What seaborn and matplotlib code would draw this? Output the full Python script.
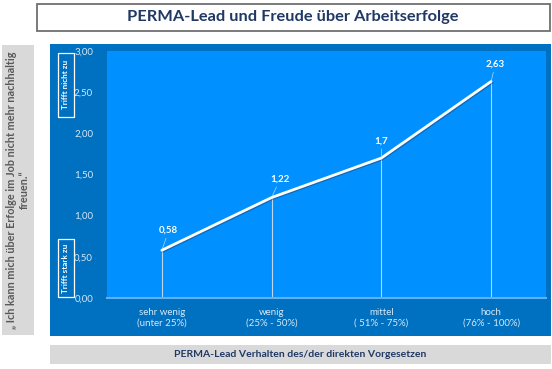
import pandas as pd
import matplotlib.pyplot as plt
import seaborn as sns
from matplotlib.patches import Rectangle
import matplotlib.patheffects as pe

# data
categories = ["sehr wenig\n(unter 25%)", "wenig\n(25% - 50%)", "mittel\n( 51% - 75%)", "hoch\n(76% - 100%)"]
values = [0.58, 1.22, 1.7, 2.63]
value_labels = ["0,58", "1,22", "1,7", "2,63"]
label_offsets = [(5, 11), (6, 10), (0, 9), (3, 9)]
yticks = [0, 0.5, 1.0, 1.5, 2.0, 2.5, 3.0]
ytick_labels = ["0,00", "0,50", "1,00", "1,50", "2,00", "2,50", "3,00"]

title = "PERMA-Lead und Freude über Arbeitserfolge"
xlabel = "PERMA-Lead Verhalten des/der direkten Vorgesetzen"
ylabel = "„ Ich kann mich über Erfolge im Job nicht mehr nachhaltig\nfreuen.“"

sns.set_style("white")
plt.rcParams['font.family'] = ['Lato', 'DejaVu Sans']

navy = "#1F3864"
outer_blue = "#0070C0"
inner_blue = "#0090FF"
light = "#D6E8F8"

df = pd.DataFrame({"pos": range(len(values)), "value": values})

fig = plt.figure(figsize=(5.52, 3.69), dpi=100)


def box(x, y, w, h, **kw):
    r = Rectangle((x, y), w, h, transform=fig.transFigure, zorder=-5, **kw)
    fig.patches.append(r)


# background boxes
box(0.067, 0.916, 0.929, 0.074, facecolor="white", edgecolor="#6F6F6F", lw=1.3)
box(0.0036, 0.092, 0.058, 0.786, facecolor="#D9D9D9", edgecolor="none")
box(0.0906, 0.0894, 0.907, 0.7914, facecolor=outer_blue, edgecolor="none")
box(0.0906, 0.0136, 0.907, 0.0515, facecolor="#D9D9D9", edgecolor="none")

fig.text(0.531, 0.953, title, ha="center", va="center", fontsize=11.8, fontweight="bold", color=navy)
fig.text(0.544, 0.039, xlabel, ha="center", va="center", fontsize=7.5, fontweight="bold", color=navy)
fig.text(0.033, 0.485, ylabel, ha="center", va="center", rotation=90, fontsize=7.8,
         fontweight="bold", color="#595959", linespacing=1.2)

# small framed labels at the y axis
box(0.105, 0.683, 0.029, 0.174, facecolor="none", edgecolor="white", lw=0.9)
box(0.105, 0.195, 0.029, 0.157, facecolor="none", edgecolor="white", lw=0.9)
fig.text(0.1195, 0.770, "Trifft nicht zu", ha="center", va="center", rotation=90,
         fontsize=5.9, fontweight="bold", color="white")
fig.text(0.1195, 0.2735, "Trifft stark zu", ha="center", va="center", rotation=90,
         fontsize=5.9, fontweight="bold", color="white")

ax = fig.add_axes([0.1938, 0.1924, 0.7953, 0.6694])
ax.set_facecolor(inner_blue)

sns.lineplot(data=df, x="pos", y="value", ax=ax, color="white", lw=2.0,
             path_effects=[pe.SimpleLineShadow(offset=(0.7, -0.7), shadow_color="#1F3864", alpha=0.45),
                           pe.Normal()])

# drop lines from points to the axis
ax.vlines(df["pos"], 0, df["value"], color="#BDD7EE", lw=0.8, zorder=1)

for x, y, lab, off in zip(df["pos"], df["value"], value_labels, label_offsets):
    ax.annotate(lab, (x, y), xytext=off, textcoords="offset points", ha="center", va="bottom",
                fontsize=7, fontweight="bold", color="white",
                arrowprops=dict(arrowstyle="-", color="#BDD7EE", lw=0.5, shrinkA=0, shrinkB=1))

ax.set_xlim(-0.5, 3.5)
ax.set_ylim(0, 3)
ax.set_xticks(range(len(categories)))
ax.set_xticklabels(categories, fontsize=7, color=light, linespacing=1.3)
ax.set_yticks(yticks)
ax.set_yticklabels(ytick_labels, fontsize=7, color=light)
ax.tick_params(axis="both", length=0)
ax.tick_params(axis="y", pad=10)
ax.tick_params(axis="x", pad=7)
ax.set_xlabel("")
ax.set_ylabel("")
for side in ["top", "right", "left"]:
    ax.spines[side].set_visible(False)
ax.spines["bottom"].set_color("#5FB0F5")
ax.spines["bottom"].set_linewidth(1.5)

fig.savefig("out.png", dpi=100)
